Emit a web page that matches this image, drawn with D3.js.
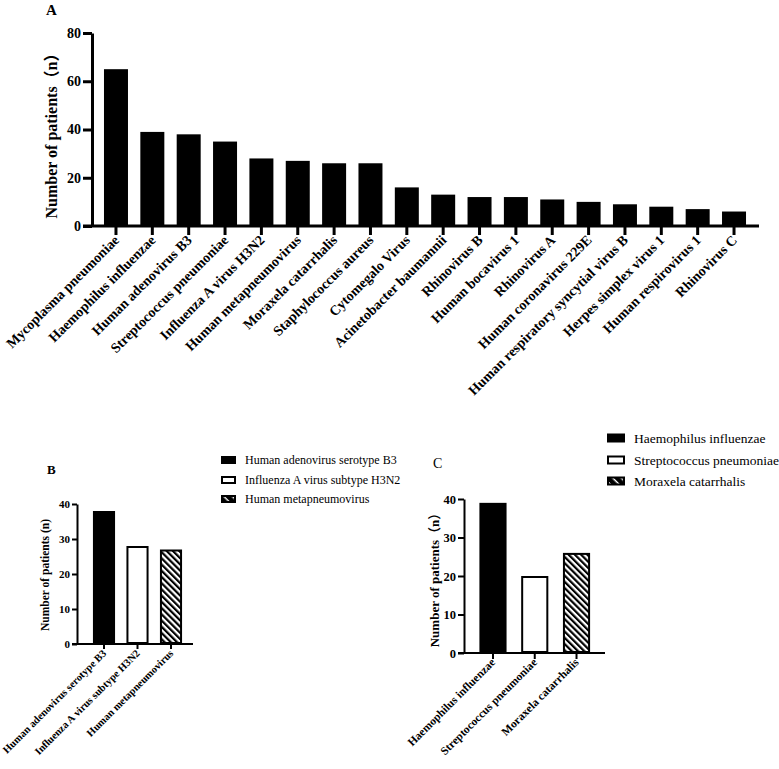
<!DOCTYPE html>
<html>
<head>
<meta charset="utf-8">
<script src="https://d3js.org/d3.v7.min.js"></script>
<style>
  body { margin: 0; background: #fff; }
</style>
</head>
<body>
<div id="chart"></div>
<script>
// ---- data ----
var namesA = ["Mycoplasma pneumoniae", "Haemophilus influenzae", "Human adenovirus B3",
  "Streptococcus pneumoniae", "Influenza A virus H3N2", "Human metapneumovirus",
  "Moraxela catarrhalis", "Staphylococcus aureus", "Cytomegalo Virus",
  "Acinetobacter baumannii", "Rhinovirus B", "Human bocavirus 1", "Rhinovirus A",
  "Human coronavirus 229E", "Human respiratory syncytial virus B",
  "Herpes simplex virus 1", "Human respirovirus 1", "Rhinovirus C"];
var valuesA = [65, 39, 38, 35, 28, 27, 26, 26, 16, 13, 12, 12, 11, 10, 9, 8, 7, 6];
var ticksA = [0, 20, 40, 60, 80];

var namesB = ["Human adenovirus serotype B3", "Influenza A virus subtype H3N2", "Human metapneumovirus"];
var valuesB = [38, 28, 27];

var namesC = ["Haemophilus influenzae", "Streptococcus pneumoniae", "Moraxela catarrhalis"];
var valuesC = [39, 20, 26];
var ticksBC = [0, 10, 20, 30, 40];

var fills = ["solid", "open", "hatch"];

var SERIF = "'Liberation Serif', 'Times New Roman', 'Noto Sans CJK SC', serif";

var svg = d3.select("#chart").append("svg")
  .attr("width", 779).attr("height", 769);

// hatch patterns ( \\\ stripes )
var defs = svg.append("defs");
defs.append("pattern").attr("id", "hatch")
  .attr("patternUnits", "userSpaceOnUse")
  .attr("width", 4.4).attr("height", 4.4)
  .attr("patternTransform", "rotate(-45)")
  .append("rect").attr("width", 2.2).attr("height", 4.4).attr("fill", "#000");
defs.append("pattern").attr("id", "hatchLegend")
  .attr("patternUnits", "userSpaceOnUse")
  .attr("width", 6).attr("height", 6)
  .attr("patternTransform", "rotate(-45)")
  .append("rect").attr("width", 4.6).attr("height", 6).attr("fill", "#000");

function fillOf(k, legend) {
  if (k == "solid") return "#000";
  if (k == "open") return "#fff";
  return legend ? "url(#hatchLegend)" : "url(#hatch)";
}

// generic bar panel
function panel(o) {
  var g = svg.append("g");
  var x = d3.scaleBand().domain(o.names).range(o.xr)
    .paddingInner(o.pad).paddingOuter(o.pad / 2);
  var y = d3.scaleLinear().domain([0, o.max]).range(o.yr);
  var sw = o.stroke || 0;

  // bars
  g.selectAll("rect.bar").data(o.values).enter().append("rect")
    .attr("class", "bar")
    .attr("x", function(d, i) { return x(o.names[i]) + sw / 2; })
    .attr("y", function(d) { return y(d) + sw / 2; })
    .attr("width", x.bandwidth() - sw)
    .attr("height", function(d) { return y(0) - y(d) - sw; })
    .attr("fill", function(d, i) { return o.fills ? fillOf(o.fills[i]) : "#000"; })
    .attr("stroke", sw ? "#000" : "none")
    .attr("stroke-width", sw);

  // y axis
  var ya = g.append("g")
    .attr("transform", "translate(" + o.xAxisAt + ",0)")
    .call(d3.axisLeft(y).tickValues(o.ticks).tickSize(o.tick).tickSizeOuter(0).tickPadding(2));
  ya.attr("font-family", null).attr("font-size", null);
  ya.select(".domain").attr("stroke-width", o.lw);
  ya.selectAll(".tick line").attr("stroke-width", o.lw);
  ya.selectAll("text")
    .style("font-family", SERIF)
    .style("font-size", o.tickFont + "px").style("font-weight", "bold");

  // x axis
  var xa = g.append("g")
    .attr("transform", "translate(0," + y(0) + ")")
    .call(d3.axisBottom(x).tickSize(o.tick).tickSizeOuter(0).tickFormat(""));
  xa.select(".domain").remove();
  xa.selectAll(".tick line").attr("stroke-width", o.lw);
  g.append("line")
    .attr("x1", o.xAxisAt - o.tick).attr("x2", o.xEnd)
    .attr("y1", y(0)).attr("y2", y(0))
    .attr("stroke", "#000").attr("stroke-width", o.lw);

  // rotated category labels
  g.selectAll("text.cat").data(o.names).enter().append("text")
    .attr("class", "cat")
    .attr("text-anchor", "end")
    .attr("transform", function(d) {
      return "translate(" + (x(d) + x.bandwidth() / 2 + o.labDx) + "," + (y(0) + o.labDy) + ")rotate(-45)";
    })
    .style("font-family", SERIF)
    .style("font-size", o.labFont + "px").style("font-weight", "bold")
    .text(function(d) { return d; });

  // y title
  g.append("text")
    .attr("text-anchor", "middle")
    .attr("transform", "translate(" + o.titleX + "," + o.titleY + ")rotate(-90)")
    .style("font-family", SERIF)
    .style("font-size", o.titleFont + "px").style("font-weight", "bold")
    .text(o.title);

  return g;
}

// ---- Panel A ----
panel({
  names: namesA, values: valuesA, max: 80, ticks: ticksA,
  xr: [97.8, 752.2], yr: [226, 33], pad: 0.34,
  xAxisAt: 92, xEnd: 759, tick: 9, lw: 3,
  tickFont: 14, labFont: 14, labDx: 4, labDy: 15,
  title: "Number of patients\uFF08n\uFF09", titleFont: 16, titleX: 57, titleY: 132
});
svg.append("text").attr("x", 46).attr("y", 15)
  .style("font-family", SERIF)
  .style("font-size", "15px").style("font-weight", "bold").text("A");

// ---- Panel B ----
panel({
  names: namesB, values: valuesB, max: 40, ticks: ticksBC, fills: fills,
  xr: [87.25, 187.75], yr: [644, 504], pad: 0.34, stroke: 2,
  xAxisAt: 77, xEnd: 193, tick: 5, lw: 2,
  tickFont: 11, labFont: 10.5, labDx: 3, labDy: 10,
  title: "Number of patients (n)", titleFont: 11.5, titleX: 49, titleY: 575
});
svg.append("text").attr("x", 47).attr("y", 474)
  .style("font-family", SERIF)
  .style("font-size", "13px").style("font-weight", "bold").text("B");

// ---- Panel C ----
panel({
  names: namesC, values: valuesC, max: 40, ticks: ticksBC, fills: fills,
  xr: [472.1, 597.4], yr: [653, 499], pad: 0.35, stroke: 2,
  xAxisAt: 464, xEnd: 605, tick: 6, lw: 2,
  tickFont: 12.5, labFont: 11.5, labDx: 3, labDy: 10,
  title: "Number of patients\uFF08n\uFF09", titleFont: 13, titleX: 439, titleY: 577
});
svg.append("text").attr("x", 433).attr("y", 468)
  .style("font-family", SERIF)
  .style("font-size", "14px").text("C");

// ---- legends ----
function legend(names, x0, ys, w, h, font) {
  var lg = svg.append("g");
  lg.selectAll("rect").data(names).enter().append("rect")
    .attr("x", x0 + 1).attr("y", function(d, i) { return ys[i] - h / 2 + 1; })
    .attr("width", w - 2).attr("height", h - 2)
    .attr("fill", function(d, i) { return fillOf(fills[i], true); })
    .attr("stroke", "#000").attr("stroke-width", 2);
  lg.selectAll("text").data(names).enter().append("text")
    .attr("x", x0 + w + 9).attr("y", function(d, i) { return ys[i]; })
    .attr("dy", "0.35em")
    .style("font-family", SERIF)
    .style("font-size", font + "px")
    .text(function(d) { return d; });
}
legend(namesB, 221, [460, 480, 499], 15, 8, 12);
legend(namesC, 607, [438, 460, 481], 18, 9, 13.5);
</script>
</body>
</html>
